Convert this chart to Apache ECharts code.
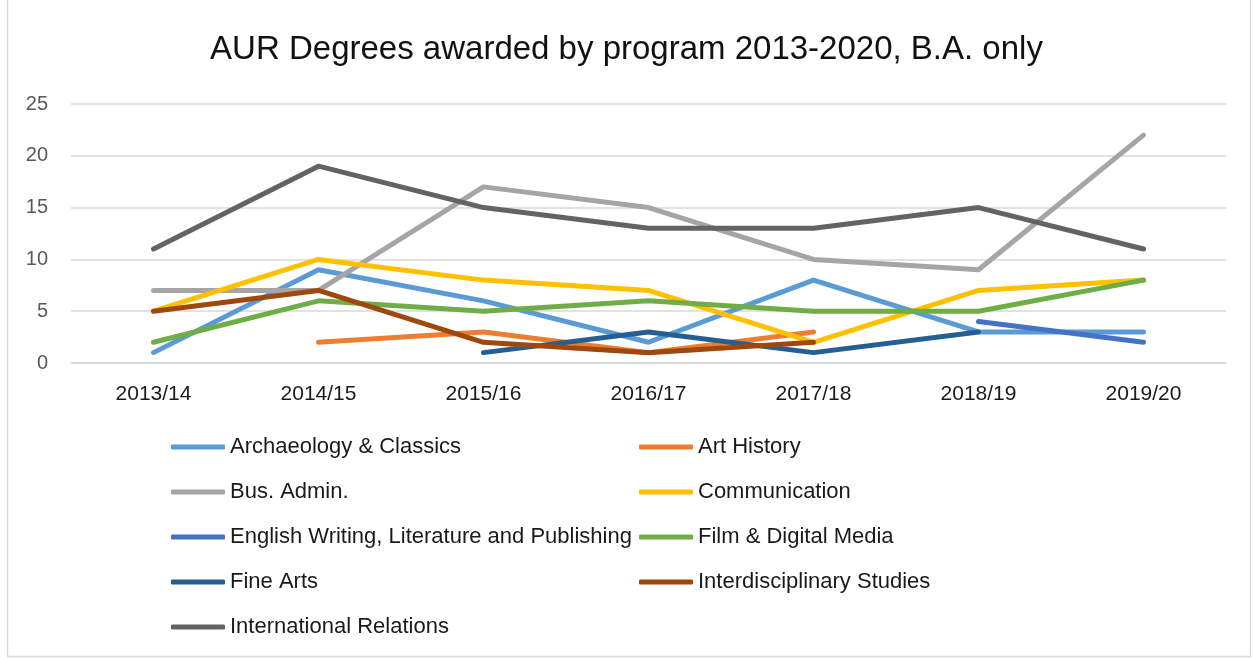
<!DOCTYPE html>
<html>
<head>
<meta charset="utf-8">
<script src="https://cdn.jsdelivr.net/npm/echarts@6/dist/echarts.min.js"></script>
<style>html,body{margin:0;padding:0;background:#fff;}#c{width:1253px;height:658px;}</style>
</head>
<body>
<div id="c"></div>
<script>
const categories = ['2013/14','2014/15','2015/16','2016/17','2017/18','2018/19','2019/20'];
const yTicks = [0, 5, 10, 15, 20, 25];
const archaeology = [1, 9, 6, 2, 8, 3, 3];
const artHistory = [null, 2, 3, 1, 3, null, null];
const busAdmin = [7, 7, 17, 15, 10, 9, 22];
const communication = [5, 10, 8, 7, 2, 7, 8];
const english = [null, null, null, null, null, 4, 2];
const film = [2, 6, 5, 6, 5, 5, 8];
const fineArts = [null, null, 1, 3, 1, 3, null];
const interdisciplinary = [5, 7, 2, 1, 2, null, null];
const intlRelations = [11, 19, 15, 13, 13, 15, 11];

const seriesDefs = [
  ['Archaeology & Classics', archaeology, '#5B9BD5'],
  ['Art History', artHistory, '#ED7D31'],
  ['Bus. Admin.', busAdmin, '#A5A5A5'],
  ['Communication', communication, '#FFC000'],
  ['English Writing, Literature and Publishing', english, '#4472C4'],
  ['Film & Digital Media', film, '#70AD47'],
  ['Fine Arts', fineArts, '#255E91'],
  ['Interdisciplinary Studies', interdisciplinary, '#9E480E'],
  ['International Relations', intlRelations, '#636363']
];

const FONT = 'Liberation Sans';
const chart = echarts.init(document.getElementById('c'), null, {renderer: 'canvas'});
const legendCommon = {
  orient: 'vertical',
  top: 435,
  padding: 0,
  itemWidth: 54,
  itemHeight: 5,
  itemGap: 21,
  icon: 'roundRect',
  textStyle: {fontFamily: FONT, fontSize: 22, color: '#1a1a1a', lineHeight: 24, padding: [0,0,0,0]}
};
chart.setOption({
  animation: false,
  backgroundColor: '#fff',
  title: {
    text: 'AUR Degrees awarded by program 2013-2020, B.A. only',
    left: 'center', top: 28,
    textStyle: {fontFamily: FONT, fontSize: 33, fontWeight: 'normal', color: '#111'}
  },
  graphic: [{
    type: 'rect', silent: true,
    shape: {x: 7.5, y: -2, width: 1243, height: 658.5},
    style: {fill: 'none', stroke: '#d9d9d9', lineWidth: 1.5}
  }],
  legend: [
    Object.assign({}, legendCommon, {left: 171, data: ['Archaeology & Classics','Bus. Admin.','English Writing, Literature and Publishing','Fine Arts','International Relations']}),
    Object.assign({}, legendCommon, {left: 639, data: ['Art History','Communication','Film & Digital Media','Interdisciplinary Studies']})
  ],
  grid: {left: 71, right: 27, top: 104, bottom: 295, containLabel: false},
  xAxis: {
    type: 'category', data: categories, boundaryGap: true,
    axisLine: {show: true, lineStyle: {color: '#d9d9d9', width: 1.5}},
    axisTick: {show: false},
    axisLabel: {fontFamily: FONT, fontSize: 21, color: '#1a1a1a', margin: 21}
  },
  yAxis: {
    type: 'value', min: yTicks[0], max: yTicks[yTicks.length-1], interval: 5,
    axisLine: {show: false}, axisTick: {show: false},
    axisLabel: {fontFamily: FONT, fontSize: 20, color: '#595959', margin: 23},
    splitLine: {lineStyle: {color: '#d9d9d9', width: 1.5}}
  },
  series: seriesDefs.map(([name, data, color]) => ({
    name, type: 'line', data, symbol: 'none', connectNulls: false,
    itemStyle: {color},
    lineStyle: {color, width: 5, cap: 'round', join: 'round'}
  }))
});
</script>
</body>
</html>
